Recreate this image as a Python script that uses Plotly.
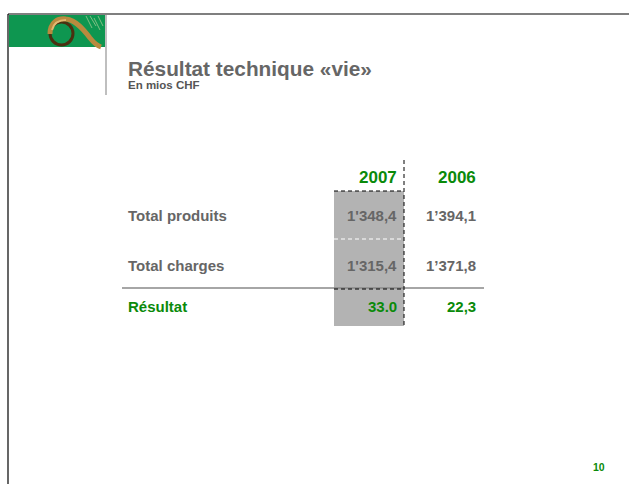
import plotly.graph_objects as go

title = "Résultat technique «vie»"
subtitle = "En mios CHF"
years = ["2007", "2006"]
row_labels = ["Total produits", "Total charges", "Résultat"]
values_2007 = ["1'348,4", "1'315,4", "33.0"]
values_2006 = ["1’394,1", "1’371,8", "22,3"]
page_number = "10"

GREEN = "#0a8a0a"
GREY_TXT = "#666666"
FONT = "Liberation Sans, Arial, sans-serif"

W, H = 629, 484
fig = go.Figure()
fig.add_trace(go.Scatter(x=[0, W], y=[0, H], mode="markers", marker=dict(opacity=0), hoverinfo="skip", showlegend=False))

shapes = []
# slide frame
shapes.append(dict(type="line", x0=8, x1=W, y0=14, y1=14, line=dict(color="black", width=1.2)))
shapes.append(dict(type="line", x0=8, x1=8, y0=14, y1=H, line=dict(color="black", width=1.2)))
# logo block
shapes.append(dict(type="rect", x0=9, x1=105, y0=15, y1=47, fillcolor="#0e9650", line=dict(width=0), layer="below"))
shapes.append(dict(type="path", path="M 86 16 L 92 28 M 90 16 L 96 26 M 94 18 L 100 30 M 98 16 L 103 26",
                   line=dict(color="#9cc890", width=0.8)))
shapes.append(dict(type="circle", x0=50, x1=73, y0=22, y1=45, line=dict(color="#4a3010", width=3)))
shapes.append(dict(type="path", path="M 50 34 C 50 22, 58 18, 66 19 C 76 20, 84 30, 90 38 C 94 43, 98 46, 101 47",
                   line=dict(color="#b98a3e", width=5)))
shapes.append(dict(type="path", path="M 52 30 C 54 22, 60 20, 66 20", line=dict(color="#e0b870", width=2)))
shapes.append(dict(type="line", x0=106, x1=106, y0=15, y1=95, line=dict(color="#aaaaaa", width=1.5)))

# grey highlight for 2007 column
shapes.append(dict(type="rect", x0=334, x1=404, y0=191, y1=326, fillcolor="#b3b3b3", line=dict(width=0), layer="below"))
# separator line above result
shapes.append(dict(type="line", x0=122, x1=484, y0=288, y1=288, line=dict(color="#888888", width=1.5)))
# dashed lines
dash = dict(color="black", width=1, dash="4px,3px")
shapes.append(dict(type="line", x0=334, x1=404, y0=191, y1=191, line=dash))
shapes.append(dict(type="line", x0=334, x1=404, y0=239, y1=239, line=dict(color="white", width=1, dash="4px,3px")))
shapes.append(dict(type="line", x0=334, x1=404, y0=289, y1=289, line=dash))
shapes.append(dict(type="line", x0=404, x1=404, y0=160, y1=326, line=dash))

ann = []
ann.append(dict(x=126, y=68, text=f"<b>{title}</b>", xanchor="left", yanchor="middle", showarrow=False,
                font=dict(family=FONT, size=20.8, color=GREY_TXT)))
ann.append(dict(x=126, y=85, text=f"<b>{subtitle}</b>", xanchor="left", yanchor="middle", showarrow=False,
                font=dict(family=FONT, size=11.5, color="#555555")))

col_x = [399, 478]
for xr, yr in zip(col_x, years):
    ann.append(dict(x=xr, y=177, text=f"<b>{yr}</b>", xanchor="right", yanchor="middle", showarrow=False,
                    font=dict(family=FONT, size=17, color=GREEN)))

row_y = [215, 265, 306]
for i, (lab, ry) in enumerate(zip(row_labels, row_y)):
    c = GREEN if i == len(row_labels) - 1 else GREY_TXT
    ann.append(dict(x=126, y=ry, text=f"<b>{lab}</b>", xanchor="left", yanchor="middle", showarrow=False,
                    font=dict(family=FONT, size=15, color=c)))
    for xr, v in zip(col_x, [values_2007[i], values_2006[i]]):
        ann.append(dict(x=xr, y=ry, text=f"<b>{v}</b>", xanchor="right", yanchor="middle", showarrow=False,
                        font=dict(family=FONT, size=15, color=c)))

ann.append(dict(x=599, y=467, text=f"<b>{page_number}</b>", xanchor="center", yanchor="middle", showarrow=False,
                font=dict(family=FONT, size=10.5, color=GREEN)))

fig.update_layout(
    width=W, height=H, margin=dict(l=0, r=0, t=0, b=0),
    paper_bgcolor="white", plot_bgcolor="white",
    xaxis=dict(range=[0, W], visible=False, fixedrange=True),
    yaxis=dict(range=[H, 0], visible=False, fixedrange=True),
    shapes=shapes, annotations=ann,
)
fig.write_html("out.html", config={"displayModeBar": False},
               post_script="document.body.style.margin='0px';")
